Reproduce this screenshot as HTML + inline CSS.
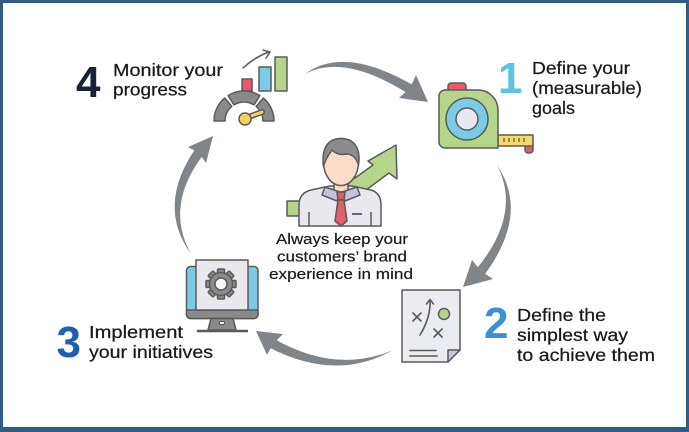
<!DOCTYPE html>
<html><head><meta charset="utf-8"><style>html,body{margin:0;padding:0;background:#fff}svg{display:block}</style></head>
<body>
<svg width="689" height="432" viewBox="0 0 689 432" xmlns="http://www.w3.org/2000/svg">
<rect x="0" y="0" width="689" height="432" fill="#325c80"/>
<rect x="3" y="3" width="683" height="424" fill="#ffffff"/>

<!-- cycle arrows -->
<g fill="#7f8589">
  <path d="M305,74 Q344,45 413.9,85.6 L408.4,93.9 Q344,53 305,74 Z"/>
  <polygon points="428,102 416,75 410,88 399,98"/>
  <path d="M497,165 Q530.5,214.5 482.75,277.05 L474.95,270.75 Q522.5,214.5 497,165 Z"/>
  <polygon points="463,287 472,260 481,271 493,279"/>
  <path d="M393,350 Q336,382.5 268.2,347 L273,338.2 Q336,374.5 393,350 Z"/>
  <polygon points="256,331 283,334 273,344 267,355"/>
  <path d="M191,254 Q156,205.5 195.9,148 L204,153.9 Q164,205.5 191,254 Z"/>
  <polygon points="213,136 188,147 199,153 206,163"/>
</g>

<g stroke="#5a5a5a" stroke-width="1.5" stroke-linejoin="round">
<!-- icon 4: chart + gauge -->
<path d="M243,68 Q255,57 269,52" fill="none" stroke-linecap="round"/>
<polyline points="263,50 270,52 266,58" fill="none" stroke-linecap="round"/>
<rect x="242" y="79" width="10" height="12" fill="#e85a6b"/>
<rect x="259" y="67" width="12" height="24" fill="#7ccbe6"/>
<rect x="275" y="57" width="12" height="34" fill="#b4d58a"/>
<path d="M214,121 A30,30 0 0 1 224.7,98 L231.8,106.4 A19,19 0 0 0 225,121 Z" fill="#8a8a8a"/>
<path d="M228.1,95.6 A30,30 0 0 1 259.9,95.6 L254.1,104.9 A19,19 0 0 0 233.9,104.9 Z" fill="#8a8a8a"/>
<path d="M263.3,98 A30,30 0 0 1 274,121 L263,121 A19,19 0 0 0 256.2,106.4 Z" fill="#8a8a8a"/>
<line x1="246" y1="118" x2="262" y2="112" stroke-width="6" stroke-linecap="round"/>
<line x1="246" y1="118" x2="262" y2="112" stroke="#f6d264" stroke-width="3" stroke-linecap="round"/>
<circle cx="245" cy="119" r="6" fill="#f6d264"/>

<!-- icon 1: tape measure -->
<rect x="448" y="83" width="18" height="10" rx="3" fill="#e85a6b"/>
<rect x="525" y="143" width="8" height="10" rx="3" fill="#e85a6b"/>
<rect x="498" y="135" width="35" height="11" fill="#f7d86a"/>
<g stroke-width="1.3"><line x1="504" y1="138" x2="504" y2="142"/><line x1="509" y1="138" x2="509" y2="142"/><line x1="514" y1="138" x2="514" y2="142"/><line x1="519" y1="138" x2="519" y2="142"/><line x1="524" y1="138" x2="524" y2="142"/></g>
<path d="M445,90 H478 A20,20 0 0 1 498,110 V148 H445 A6,6 0 0 1 439,142 V96 A6,6 0 0 1 445,90 Z" fill="#b4d58a"/>
<circle cx="467" cy="119" r="21" fill="#7ccbe6"/>
<circle cx="467" cy="119" r="11" fill="#e8e8ee"/>

<!-- icon 2: document -->
<path d="M402,290 H460 V350 L448,362 H402 Z" fill="#ebebf2"/>
<path d="M460,350 L448,350 L448,362 Z" fill="#c5c5dd"/>
<g stroke-width="1.6" stroke-linecap="round" fill="none">
<line x1="413" y1="313" x2="421" y2="321"/><line x1="421" y1="313" x2="413" y2="321"/>
<line x1="434" y1="329" x2="442" y2="337"/><line x1="442" y1="329" x2="434" y2="337"/>
<path d="M420,335 Q431,317 430,300"/>
<polyline points="426.5,304 430,299.5 433.5,304"/>
<line x1="410" y1="350.5" x2="436" y2="350.5"/>
<line x1="410" y1="356" x2="437" y2="356"/>
</g>
<circle cx="444" cy="314" r="5.5" fill="#b4d58a"/>

<!-- icon 3: monitor -->
<rect x="186.5" y="266.5" width="71.5" height="52" rx="4" fill="#7ccbe6"/>
<path d="M186.5,310 H258 V314.5 A4,4 0 0 1 254,318.5 H190.5 A4,4 0 0 1 186.5,314.5 Z" fill="#8a8a8a"/>
<rect x="196" y="260" width="52" height="50" fill="#e8e8ee"/>
<g transform="translate(221,284)" fill="#8a8a8a">
  <rect x="-3.5" y="-15" width="7" height="6" rx="1"/>
  <rect x="-3.5" y="-15" width="7" height="6" rx="1" transform="rotate(45)"/>
  <rect x="-3.5" y="-15" width="7" height="6" rx="1" transform="rotate(90)"/>
  <rect x="-3.5" y="-15" width="7" height="6" rx="1" transform="rotate(135)"/>
  <rect x="-3.5" y="-15" width="7" height="6" rx="1" transform="rotate(180)"/>
  <rect x="-3.5" y="-15" width="7" height="6" rx="1" transform="rotate(225)"/>
  <rect x="-3.5" y="-15" width="7" height="6" rx="1" transform="rotate(270)"/>
  <rect x="-3.5" y="-15" width="7" height="6" rx="1" transform="rotate(315)"/>
  <circle cx="0" cy="0" r="11.5"/>
  <circle cx="0" cy="0" r="6" fill="#f7f7f9"/>
</g>
<polygon points="211,318.5 233,318.5 236,330 208,330" fill="#8a8a8a"/>
<rect x="219.5" y="321.5" width="5" height="3" rx="1" fill="#f0f0f4" stroke-width="1"/>
<line x1="197" y1="331" x2="248" y2="331" stroke-width="2.5"/>

<!-- center person -->
<path d="M287,201 H310 L355,178 L373,165 L368,161 L396,145 L397,179 L389,173 L362,193 L320,216 H287 Z" fill="#b4d58a"/>
<path d="M299,226 V205 Q299,193 311,190 L330,186 H352 L371,190 Q381,193 381,205 V226 Z" fill="#e8e8ee"/>
<line x1="309" y1="212" x2="309" y2="226"/>
<line x1="371" y1="212" x2="371" y2="226"/>
<line x1="352" y1="214" x2="362" y2="214" stroke-width="1.8"/>
<rect x="334" y="178" width="14" height="14" fill="#fcdcc8"/>
<polygon points="325,187 340,192 337,201 322,195" fill="#c2c2dc"/>
<polygon points="357,187 342,192 345,201 360,195" fill="#c2c2dc"/>
<polygon points="337,192 345,192 344,200 338,200" fill="#e35d6a"/>
<polygon points="338,200 344,200 347,221 341,226 335,221" fill="#e35d6a"/>
<ellipse cx="341" cy="162" rx="17.5" ry="23.5" fill="#fcdcc8"/>
<path d="M323.5,167 C321,148 328,138.5 341,138.5 C354,138.5 361,148 358.5,165 C356.5,158 352,154 346,154 Q338,156 332,150 C328,156 325,160 323.5,167 Z" fill="#8b8b8b"/>
</g>

<!-- numbers -->
<g font-family="Liberation Sans, Arial, sans-serif" font-weight="bold" font-size="44">
<text x="76" y="97" fill="#17223b">4</text>
<text x="498" y="93" fill="#5ec4de">1</text>
<text x="484" y="338" fill="#3a90d2">2</text>
<text x="56.5" y="357" fill="#1f5fae">3</text>
</g>

<!-- labels -->
<g font-family="Liberation Sans, Arial, sans-serif" font-size="17.5" fill="#1a1a1a" stroke="#1a1a1a" stroke-width="0.25">
<text x="113" y="76" textLength="110" lengthAdjust="spacingAndGlyphs">Monitor your</text>
<text x="113" y="95.5" textLength="74" lengthAdjust="spacingAndGlyphs">progress</text>
<text x="532" y="74" textLength="98" lengthAdjust="spacingAndGlyphs">Define your</text>
<text x="532" y="94" textLength="110" lengthAdjust="spacingAndGlyphs">(measurable)</text>
<text x="532" y="114" textLength="43" lengthAdjust="spacingAndGlyphs">goals</text>
<text x="517" y="321" textLength="89" lengthAdjust="spacingAndGlyphs">Define the</text>
<text x="517" y="341" textLength="111" lengthAdjust="spacingAndGlyphs">simplest way</text>
<text x="517" y="361" textLength="138" lengthAdjust="spacingAndGlyphs">to achieve them</text>
<text x="89" y="338" textLength="94" lengthAdjust="spacingAndGlyphs">Implement</text>
<text x="89" y="358" textLength="124" lengthAdjust="spacingAndGlyphs">your initiatives</text>
</g>
<g font-family="Liberation Sans, Arial, sans-serif" font-size="15" fill="#1a1a1a" stroke="#1a1a1a" stroke-width="0.2" text-anchor="middle">
<text x="342" y="244" textLength="132" lengthAdjust="spacingAndGlyphs">Always keep your</text>
<text x="342" y="261.5" textLength="130" lengthAdjust="spacingAndGlyphs">customers’ brand</text>
<text x="341" y="279" textLength="144" lengthAdjust="spacingAndGlyphs">experience in mind</text>
</g>
</svg>
</body></html>
